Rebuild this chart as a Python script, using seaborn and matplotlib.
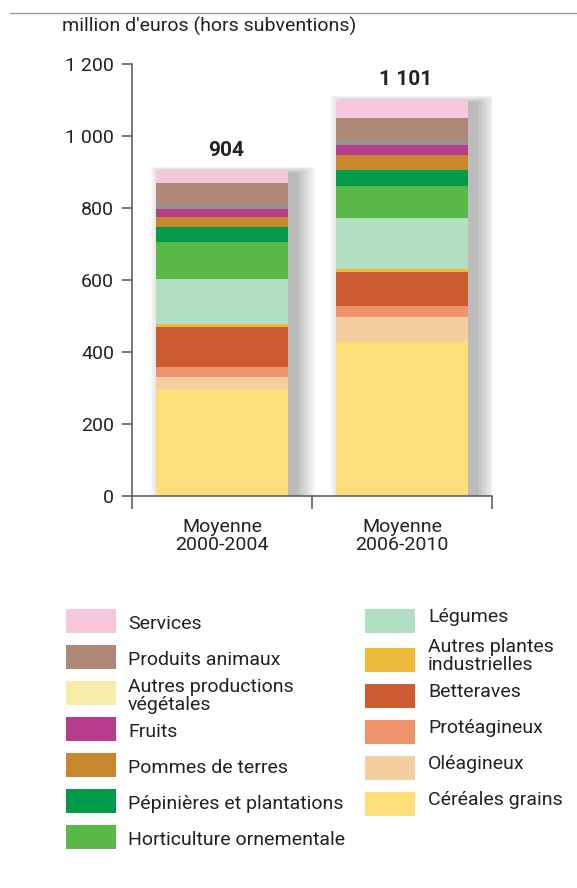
import numpy as np
import pandas as pd
import matplotlib
matplotlib.use('Agg')
import matplotlib.pyplot as plt
from matplotlib.patches import Rectangle
from matplotlib.lines import Line2D
import seaborn as sns

periods = ["Moyenne\n2000-2004", "Moyenne\n2006-2010"]
totals = [904, 1101]

# bottom -> top of each stack
categories = [
    "Céréales grains", "Oléagineux", "Protéagineux", "Betteraves",
    "Autres plantes\nindustrielles", "Légumes", "Horticulture ornementale",
    "Pépinières et plantations", "Pommes de terres", "Fruits",
    "Autres productions\nvégétales", "Produits animaux", "Services",
]
values_2000 = [297, 34, 28, 111, 9, 124, 102, 41, 28, 22, 12, 61, 35]
values_2006 = [429, 68, 31, 93, 10, 140, 91, 44, 42, 26, 16, 59, 52]

bar_colors = [
    "#FEDE78", "#F4CE9E", "#EE936B", "#CE5A2F", "#EDBA3A", "#B2DEC1", "#5AB946",
    "#009A4A", "#C8872A", "#B53D8B", "#939393", "#AD8877", "#F7C8DC",
]
# legend shows a pale yellow swatch for "Autres productions végétales"
legend_colors = list(bar_colors)
legend_colors[10] = "#F8EDA8"

left_col = ["Services", "Produits animaux", "Autres productions\nvégétales", "Fruits",
            "Pommes de terres", "Pépinières et plantations", "Horticulture ornementale"]
right_col = ["Légumes", "Autres plantes\nindustrielles", "Betteraves", "Protéagineux",
             "Oléagineux", "Céréales grains"]

sns.set_style("white")
plt.rcParams['font.family'] = ['Roboto', 'DejaVu Sans']

W, H = 577, 888
fig = plt.figure(figsize=(W / 100, H / 100), dpi=100)
ax = fig.add_axes([132 / W, 1 - 496 / H, 360 / W, 432 / H])

# long table of cumulative heights, drawn top layer first so lower layers cover it
rows = []
for per, vals in zip(periods, [values_2000, values_2006]):
    cum = np.cumsum(vals)
    for cat, c in zip(categories, cum):
        rows.append({"period": per, "category": cat, "cum": c})
df = pd.DataFrame(rows)

# soft shadow, mostly to the right of the bars
for k in range(12):
    ax.bar(np.arange(len(periods)) + 0.06, np.array(totals) - 6 + 1.5 * k,
           width=0.72 + 0.018 * k, color="black", alpha=0.022, zorder=0, lw=0)

for cat, col in reversed(list(zip(categories, bar_colors))):
    sub = df[df["category"] == cat]
    sns.barplot(data=sub, x="period", y="cum", order=periods, color=col,
                width=0.73, ax=ax, linewidth=0, saturation=1, zorder=2)

for i, t in enumerate(totals):
    ax.text(i + 0.02, t + 56, f"{t:,}".replace(",", " "), ha="center", va="center",
            fontsize=15, fontweight="bold", color="#222222")

ax.set_xlim(-0.5, 1.5)
ax.set_ylim(0, 1200)
ax.set_xlabel("")
ax.set_ylabel("")
yt = np.arange(0, 1201, 200)
ax.set_yticks(yt)
ax.set_yticklabels([f"{v:,}".replace(",", " ") for v in yt], fontsize=14, color="#222222")
ax.set_xticks([0, 1])
ax.set_xticklabels(periods, fontsize=14, color="#222222", linespacing=0.95)
ax.set_xticks([-0.5, 0.5, 1.5], minor=True)
ax.tick_params(axis="x", which="major", length=0, pad=16)
ax.tick_params(axis="x", which="minor", bottom=True, length=9, width=1.1,
               color="#555555", direction="out")
ax.tick_params(axis="y", length=7, width=1.1, color="#555555", direction="out", pad=6, left=True)
for s in ["top", "right"]:
    ax.spines[s].set_visible(False)
for s in ["left", "bottom"]:
    ax.spines[s].set_color("#555555")
    ax.spines[s].set_linewidth(1.1)

# header
fig.add_artist(Line2D([10 / W, 1], [1 - 13 / H] * 2, color="#9a9a9a", lw=1))
fig.text(62 / W, 1 - 26 / H, "million d'euros (hors subventions)", fontsize=14,
         va="center", ha="left", color="#222222")

# legend in pixel coordinates
lax = fig.add_axes([0, 0, 1, 1])
lax.set_xlim(0, W)
lax.set_ylim(H, 0)
lax.axis("off")
color_of = dict(zip(categories, legend_colors))
for i, lab in enumerate(left_col):
    yc = 621 + 36 * i
    lax.add_patch(Rectangle((66, yc - 12), 50, 24, color=color_of[lab], lw=0))
    lax.text(128, yc + 3, lab, fontsize=14, va="center", ha="left",
             color="#222222", linespacing=0.95)
for i, lab in enumerate(right_col):
    yc = 621 + 36 * i + (3 if i else 0)
    lax.add_patch(Rectangle((365, yc - 12), 50, 24, color=color_of[lab], lw=0))
    lax.text(428, yc - 4, lab, fontsize=14, va="center", ha="left",
             color="#222222", linespacing=0.95)

fig.savefig("out.png", dpi=100)
